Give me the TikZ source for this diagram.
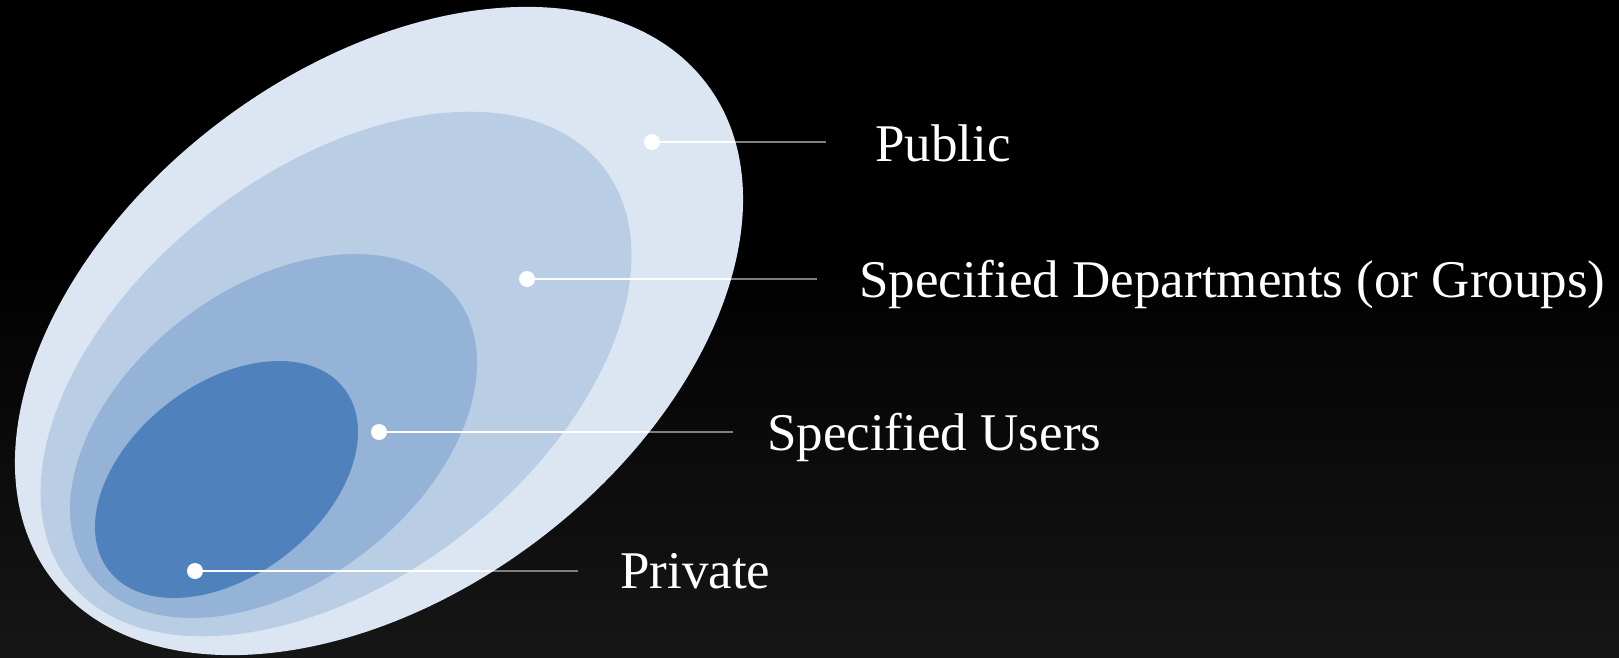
\documentclass[tikz,border=0pt]{standalone}
\usepackage{fontspec}
\setmainfont{Liberation Serif}
\definecolor{cO}{HTML}{DCE6F2}
\definecolor{cS}{HTML}{B9CDE5}
\definecolor{cT}{HTML}{95B3D7}
\definecolor{cI}{HTML}{4F81BD}
\definecolor{bgbot}{HTML}{161616}
\definecolor{lgray}{HTML}{7F7F7F}
\begin{document}
\begin{tikzpicture}[x=1pt,y=-1pt,
  lbl/.style={text=white, font=\fontsize{53}{60}\selectfont, anchor=base west, inner sep=0pt},
  dotnode/.style={circle, fill=white, minimum size=16pt, inner sep=0pt},
  wline/.style={white, line width=2.4pt},
  gline/.style={lgray, line width=2.4pt},
  outerell/.style={shift={(379,331)}, rotate=37}]
\useasboundingbox (0,0) rectangle (1619,658);
\fill[black] (0,0) rectangle (1619,658);
\shade[top color=black, bottom color=bgbot] (0,250) rectangle (1619,658);

% nested regions (rotated ellipses)
\fill[cO, outerell] (0,0) ellipse [x radius=410.5, y radius=262.7];
\fill[cS, shift={(336,374)}, rotate=37.6] (0,0) ellipse [x radius=338, y radius=204.5];
\fill[cT, shift={(273.5,436)}, rotate=37.2] (0,0) ellipse [x radius=229.5, y radius=147.8];
\fill[cI, shift={(226.5,479.5)}, rotate=37.7] (0,0) ellipse [x radius=148.7, y radius=96];

% label anchors
\coordinate (e1) at (826,142);
\coordinate (e2) at (817,279);
\coordinate (e3) at (733,432);
\coordinate (e4) at (578,571);
\coordinate (p1) at (652,142);
\coordinate (p2) at (527,279);
\coordinate (p3) at (379,432);
\coordinate (p4) at (195,571);

% grey leader lines (visible outside the outer region)
\draw[gline] (p1) -- (e1);
\draw[gline] (p2) -- (e2);
\draw[gline] (p3) -- (e3);
\draw[gline] (p4) -- (e4);
% white part inside the outer region
\begin{scope}
  \clip[outerell] (0,0) ellipse [x radius=410.5, y radius=262.7];
  \draw[wline] (p1) -- (e1);
  \draw[wline] (p2) -- (e2);
  \draw[wline] (p3) -- (e3);
  \draw[wline] (p4) -- (e4);
\end{scope}

\node[dotnode] (d1) at (p1) {};
\node[dotnode] (d2) at (p2) {};
\node[dotnode] (d3) at (p3) {};
\node[dotnode] (d4) at (p4) {};

\node[lbl] (t1) at (875,161) {Public};
\node[lbl] (t2) at (859,297) {Specified Departments (or Groups)};
\node[lbl] (t3) at (767,450) {Specified Users};
\node[lbl] (t4) at (620,588) {Private};
\end{tikzpicture}
\end{document}
